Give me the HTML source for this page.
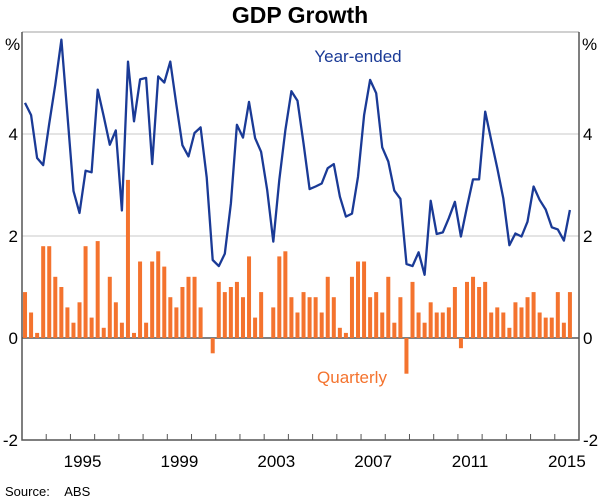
<!DOCTYPE html>
<html><head><meta charset="utf-8">
<style>
body{margin:0;background:#fff;}
svg{display:block;font-family:"Liberation Sans",Arial,sans-serif;}
</style></head>
<body>
<svg id="chart" width="600" height="501" viewBox="0 0 600 501">
<text x="300" y="23" text-anchor="middle" font-size="23" font-weight="bold" fill="#000">GDP Growth</text>
<g id="grid"></g>
<g id="bars"></g>
<g id="line"></g>
<g id="axes"></g>
<text x="5" y="50" font-size="17">%</text>
<text x="582" y="50" font-size="17">%</text>
<text x="358" y="62" text-anchor="middle" font-size="17" fill="#1a3a96">Year-ended</text>
<text x="352" y="383" text-anchor="middle" font-size="17" fill="#f4732e">Quarterly</text>
<text x="5" y="496" font-size="13">Source:&#160;&#160;&#160;&#160;ABS</text>
</svg>
<script>
const quarterly=[0.9,0.5,0.1,1.8,1.8,1.2,1.0,0.6,0.3,0.7,1.8,0.4,1.9,0.2,1.2,0.7,0.3,3.1,0.1,1.5,0.3,1.5,1.7,1.4,0.8,0.6,1.0,1.2,1.2,0.6,0.0,-0.3,1.1,0.9,1.0,1.1,0.8,1.6,0.4,0.9,0.0,0.6,1.6,1.7,0.8,0.5,
0.9,0.8,0.8,0.5,1.2,0.8,0.2,0.1,1.2,1.5,1.5,0.8,0.9,0.5,1.2,0.3,0.8,-0.7,1.1,0.5,0.3,0.7,0.5,0.5,0.6,1.0,-0.2,1.1,1.2,1.0,1.1,0.5,0.6,0.5,0.2,0.7,0.6,0.8,0.9,0.5,0.4,0.4,0.9,0.3,0.9];
const yearEnded=[4.61,4.37,3.53,3.39,4.2,4.97,5.85,4.38,2.88,2.45,3.28,3.25,4.87,4.35,3.79,4.07,2.5,5.42,4.25,5.07,5.1,3.41,5.13,5.01,5.42,4.57,3.78,3.56,4.02,4.13,3.15,1.53,1.41,1.65,2.64,4.18,3.93,4.63,3.92,3.65,2.9,1.89,3.1,4.08,4.84,4.65,3.82,2.92,2.97,3.03,3.33,3.41,2.77,2.38,2.44,3.16,4.37,5.06,4.8,3.74,3.46,2.89,2.73,1.45,1.41,1.68,1.24,2.69,2.04,2.07,2.35,2.67,1.99,2.57,3.11,3.11,4.44,3.88,3.33,2.74,1.82,2.05,1.99,2.28,2.97,2.71,2.52,2.17,2.13,1.91,2.51];
const yTicks=[-2,0,2,4];
const xYears=[1995,1999,2003,2007,2011,2015];
const startYear=1993, endYear=2016;
const L=22,R=579,T=32,B=440, yMin=-2, yMax=6;
const NS='http://www.w3.org/2000/svg';
function X(t){return L+(t-startYear)/(endYear-startYear)*(R-L);}
function Y(v){return B-(v-yMin)/(yMax-yMin)*(B-T);}
function mk(tag,attrs,parent){const e=document.createElementNS(NS,tag);for(const k in attrs)e.setAttribute(k,attrs[k]);parent.appendChild(e);return e;}
const grid=document.getElementById('grid'),bars=document.getElementById('bars'),line=document.getElementById('line'),axes=document.getElementById('axes');
yTicks.forEach(v=>{
  if(v!==0&&v>yMin){const g=mk('line',{x1:L,x2:R,y1:Y(v),y2:Y(v),stroke:'#c8c8c8','stroke-width':1},grid);
  
  }
  const a=mk('text',{x:18,y:Y(v)+6,'text-anchor':'end','font-size':17},axes);a.textContent=v;
  
  
  const b=mk('text',{x:583,y:Y(v)+6,'font-size':17},axes);b.textContent=v;
  
  
});
quarterly.forEach((v,i)=>{
  const cx=X(startYear+(i+0.5)/4);
  const y0=Y(0),y1=Y(v);
  const r=mk('rect',{x:cx-2,width:4,y:Math.min(y0,y1),height:Math.abs(y1-y0),fill:'#f4732e'},bars);
  
  
});
const zl=mk('line',{x1:L,x2:R,y1:Y(0),y2:Y(0),stroke:'#000','stroke-width':1},grid);


const pts=yearEnded.map((v,i)=>X(startYear+(i+0.5)/4).toFixed(1)+','+Y(v).toFixed(1)).join(' ');
const pl=mk('polyline',{points:pts,fill:'none',stroke:'#1a3a96','stroke-width':2.3,'stroke-linejoin':'round'},line);


const fr=mk('path',{d:`M${L},${T}L${R},${T}`,stroke:'#a0a0a0','stroke-width':1,fill:'none'},axes);


const ax=mk('path',{d:`M${L},${T}L${L},${B}L${R},${B}L${R},${T}`,stroke:'#555','stroke-width':1.5,fill:'none'},axes);


for(let yr=startYear+1;yr<endYear;yr++){
  const t=mk('line',{x1:X(yr),x2:X(yr),y1:B,y2:B-6,stroke:'#555','stroke-width':1},axes);
  
  
}
xYears.forEach(yr=>{
  const t=mk('text',{x:X(yr+0.5),y:B+27,'text-anchor':'middle','font-size':17},axes);t.textContent=yr;
  
  
});
</script>
</body></html>
